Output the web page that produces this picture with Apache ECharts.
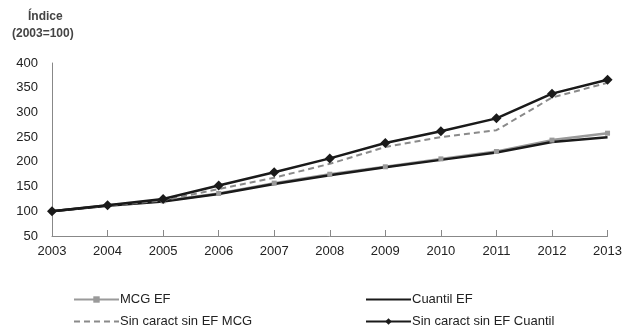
<!DOCTYPE html>
<html>
<head>
<meta charset="utf-8">
<script src="https://cdn.jsdelivr.net/npm/echarts@6/dist/echarts.min.js"></script>
<style>
  html, body { margin: 0; padding: 0; background: #fff; }
  #chart { width: 625px; height: 328px; }
</style>
</head>
<body>
<div id="chart"></div>
<script>
const years = ['2003', '2004', '2005', '2006', '2007', '2008', '2009', '2010', '2011', '2012', '2013']
const mcgEF = [100, 112, 121, 136, 157, 175, 190, 206, 221, 244, 258]
const cuantilEF = [100, 111, 120, 135, 155, 173, 189, 204, 219, 240, 250]
const sinMCG = [100, 111, 122, 145, 168, 196, 230, 250, 264, 330, 360]
const sinCuantil = [100, 112, 125, 152, 179, 207, 238, 262, 288, 338, 366]

const font = 'Liberation Sans, Arial, sans-serif'
const chart = echarts.init(document.getElementById('chart'))

// one legend per entry so the 2x2 layout is fixed
const legendItem = (item, left, top) => ({
  left: left,
  top: top,
  itemWidth: 45,
  itemHeight: 8,
  textStyle: { fontSize: 13, color: '#222', padding: [0, 0, 0, -4] },
  data: [item]
})

chart.setOption({
  animation: false,
  textStyle: { fontFamily: font },
  graphic: [
    {
      type: 'text',
      left: 28,
      top: 11,
      style: { text: 'Índice', font: 'bold 12px ' + font, fill: '#444' }
    },
    {
      type: 'text',
      left: 12,
      top: 28,
      style: { text: '(2003=100)', font: 'bold 12px ' + font, fill: '#444' }
    }
  ],
  grid: { left: 52, right: 17, top: 63, bottom: 92 },
  xAxis: {
    type: 'category',
    data: years,
    boundaryGap: false,
    axisLine: { lineStyle: { color: '#888', width: 1 } },
    axisTick: { inside: true, length: 6, lineStyle: { color: '#888' } },
    axisLabel: { color: '#222', fontSize: 13, margin: 9 },
    splitLine: { show: false }
  },
  yAxis: {
    type: 'value',
    min: 50,
    max: 400,
    interval: 50,
    axisLine: { show: true, lineStyle: { color: '#888', width: 1 } },
    axisTick: { show: false },
    axisLabel: { color: '#222', fontSize: 13, margin: 14 },
    splitLine: { show: false }
  },
  legend: [
    legendItem({ name: 'MCG EF' }, 68, 288),
    legendItem({ name: 'Cuantil EF', itemStyle: { opacity: 0 } }, 360, 288),
    legendItem({ name: 'Sin caract sin EF MCG', itemStyle: { opacity: 0 } }, 68, 310),
    legendItem({ name: 'Sin caract sin EF Cuantil' }, 360, 310)
  ],
  series: [
    {
      name: 'MCG EF',
      type: 'line',
      data: mcgEF,
      symbol: 'rect',
      symbolSize: 5,
      lineStyle: { color: '#9a9a9a', width: 2.5 },
      itemStyle: { color: '#9a9a9a' }
    },
    {
      name: 'Cuantil EF',
      type: 'line',
      data: cuantilEF,
      symbol: 'none',
      lineStyle: { color: '#1a1a1a', width: 2.5 },
      itemStyle: { color: '#1a1a1a' }
    },
    {
      name: 'Sin caract sin EF MCG',
      type: 'line',
      data: sinMCG,
      symbol: 'none',
      lineStyle: { color: '#8a8a8a', width: 2, type: [6, 4] },
      itemStyle: { color: '#8a8a8a' }
    },
    {
      name: 'Sin caract sin EF Cuantil',
      type: 'line',
      data: sinCuantil,
      symbol: 'diamond',
      symbolSize: 10,
      lineStyle: { color: '#1a1a1a', width: 2.5 },
      itemStyle: { color: '#1a1a1a' }
    }
  ]
})
</script>
</body>
</html>
